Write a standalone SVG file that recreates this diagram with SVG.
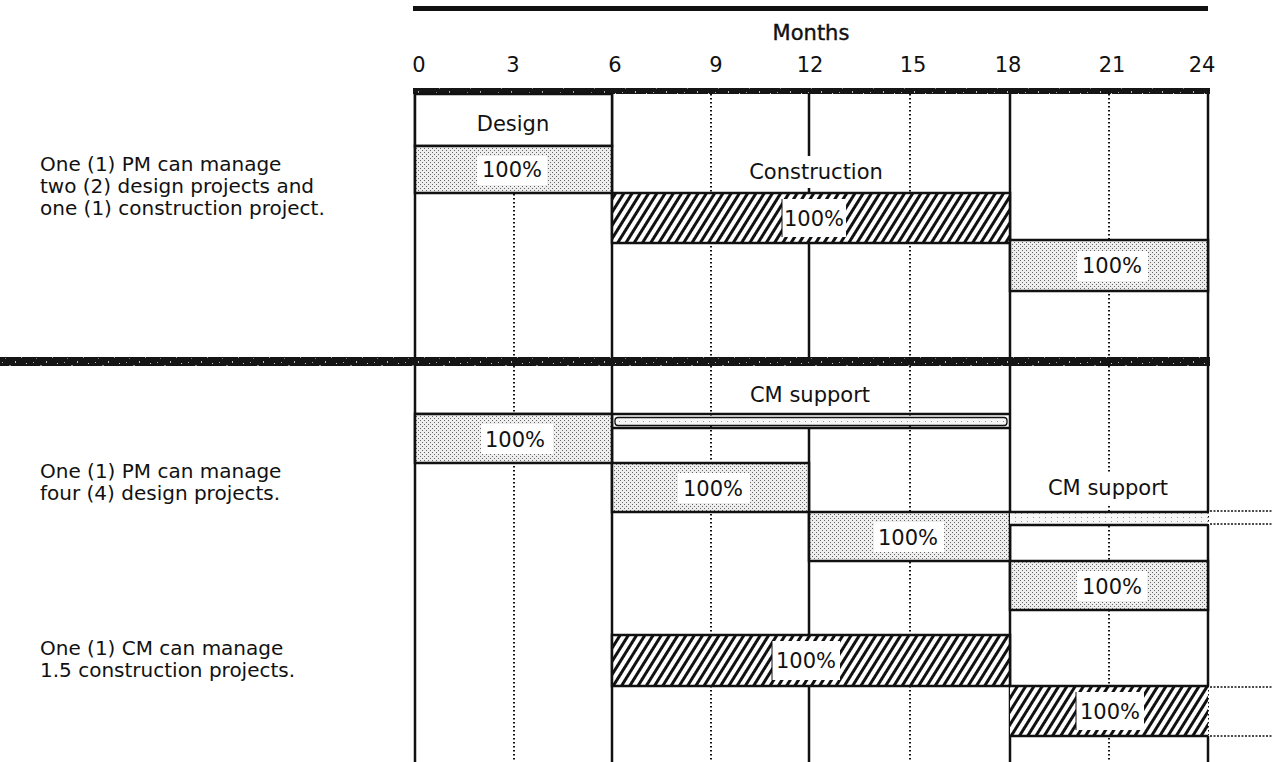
<svg xmlns="http://www.w3.org/2000/svg" width="1272" height="762" viewBox="0 0 1272 762">
  <defs>
    <style>
      text { font-family: "DejaVu Sans", "Liberation Sans", sans-serif; font-size: 21px; fill: #111; }
      .mid { text-anchor: middle; }
      .note { font-size: 20px; }
      .solid { stroke: #111; stroke-width: 2.5; fill: none; }
      .dots { stroke: #111; stroke-width: 2; stroke-dasharray: 1.5 2.5; fill: none; }
      .ext { stroke: #111; stroke-width: 1.5; stroke-dasharray: 2 1.5; fill: none; }
      .bar { stroke: #111; stroke-width: 2.5; }
      .shade { fill: url(#stipple); }
      .hatched { fill: url(#hatch); }
      .tag { fill: #fff; stroke: none; }
      .band { fill: url(#grain); }
    </style>
    <!-- light stipple tone -->
    <pattern id="stipple" width="4" height="4" patternUnits="userSpaceOnUse">
      <rect width="4" height="4" fill="#eeeeee"/>
      <rect width="1" height="1" fill="#666"/>
      <rect x="2" y="2" width="1" height="1" fill="#666"/>
    </pattern>
    <!-- very faint stipple for the thin support strips -->
    <pattern id="faint" width="6" height="4" patternUnits="userSpaceOnUse">
      <rect width="6" height="4" fill="#f7f7f7"/>
      <rect x="1" y="1" width="1" height="1" fill="#999"/>
    </pattern>
    <!-- diagonal hatching -->
    <pattern id="hatch" width="7" height="10" patternUnits="userSpaceOnUse" patternTransform="rotate(32)">
      <rect width="7" height="10" fill="#fff"/>
      <rect width="3" height="10" fill="#111"/>
    </pattern>
    <!-- speckled black rule -->
    <pattern id="grain" width="31" height="9" patternUnits="userSpaceOnUse">
      <rect width="31" height="9" fill="#151515"/>
      <rect x="2" y="2" width="1" height="1" fill="#aaa"/>
      <rect x="9" y="5" width="2" height="1" fill="#888"/>
      <rect x="15" y="1" width="1" height="2" fill="#bbb"/>
      <rect x="21" y="6" width="1" height="1" fill="#999"/>
      <rect x="26" y="3" width="1" height="1" fill="#ccc"/>
      <rect x="5" y="7" width="1" height="1" fill="#777"/>
    </pattern>
  </defs>

  <!-- header -->
  <g id="header">
    <rect x="413" y="6" width="795" height="5" fill="#111"/>
    <text class="mid" x="811" y="40" stroke="#111" stroke-width="0.4">Months</text>
    <g id="axis-labels">
      <text class="mid" x="419" y="72">0</text>
      <text class="mid" x="513" y="72">3</text>
      <text class="mid" x="615" y="72">6</text>
      <text class="mid" x="716" y="72">9</text>
      <text class="mid" x="810" y="72">12</text>
      <text class="mid" x="913" y="72">15</text>
      <text class="mid" x="1008" y="72">18</text>
      <text class="mid" x="1112" y="72">21</text>
      <text class="mid" x="1202" y="72">24</text>
    </g>
  </g>

  <!-- month grid -->
  <g id="grid">
    <line class="dots" x1="514" y1="94" x2="514" y2="762"/>
    <line class="dots" x1="711" y1="94" x2="711" y2="762"/>
    <line class="dots" x1="910" y1="94" x2="910" y2="762"/>
    <line class="dots" x1="1109" y1="94" x2="1109" y2="762"/>
    <line class="solid" x1="415" y1="94" x2="415" y2="762"/>
    <line class="solid" x1="612" y1="94" x2="612" y2="762"/>
    <line class="solid" x1="809" y1="94" x2="809" y2="360"/>
    <line class="solid" x1="809" y1="428" x2="809" y2="762"/>
    <line class="solid" x1="1010" y1="94" x2="1010" y2="762"/>
    <line class="solid" x1="1208" y1="94" x2="1208" y2="512"/>
    <line class="dots" x1="1208" y1="512" x2="1208" y2="525"/>
    <line class="solid" x1="1208" y1="525" x2="1208" y2="686"/>
    <line class="dots" x1="1208" y1="686" x2="1208" y2="736"/>
    <line class="solid" x1="1208" y1="736" x2="1208" y2="762"/>
    <rect class="band" x="413" y="88" width="797" height="6"/>
    <rect class="band" x="0" y="357" width="1210" height="9"/>
  </g>

  <!-- left-hand notes -->
  <g id="notes">
    <text class="note" x="40" y="171">One (1) PM can manage</text>
    <text class="note" x="40" y="193">two (2) design projects and</text>
    <text class="note" x="40" y="215">one (1) construction project.</text>
    <text class="note" x="40" y="478">One (1) PM can manage</text>
    <text class="note" x="40" y="500">four (4) design projects.</text>
    <text class="note" x="40" y="655">One (1) CM can manage</text>
    <text class="note" x="40" y="677">1.5 construction projects.</text>
  </g>

  <!-- upper schedule: PM with design and construction -->
  <g id="pm1-design-label">
    <rect x="415" y="94" width="197" height="52" fill="#fff" class="bar"/>
    <text class="mid" x="513" y="131">Design</text>
  </g>
  <g id="pm1-design-bar">
    <rect class="bar shade" x="415" y="146" width="197" height="47"/>
    <rect class="tag" x="477" y="156" width="70" height="29"/>
    <text class="mid" x="512" y="177">100%</text>
  </g>
  <g id="pm1-construction-label">
    <rect class="tag" x="744" y="156" width="146" height="32"/>
    <text class="mid" x="816" y="179">Construction</text>
  </g>
  <g id="pm1-construction-bar">
    <rect class="bar hatched" x="612" y="193" width="398" height="50"/>
    <rect class="tag" x="782" y="199" width="64" height="38"/>
    <line x1="782" y1="199" x2="782" y2="237" stroke="#111" stroke-width="1"/>
    <text class="mid" x="814" y="226">100%</text>
  </g>
  <g id="pm1-design-bar-2">
    <rect class="bar shade" x="1010" y="240" width="198" height="51"/>
    <rect class="tag" x="1077" y="251" width="71" height="30"/>
    <text class="mid" x="1112" y="273">100%</text>
  </g>

  <!-- lower schedule: PM with four designs, CM with construction -->
  <g id="cm-support-1">
    <line class="solid" x1="415" y1="414" x2="1010" y2="414"/>
    <rect class="tag" x="744" y="380" width="132" height="30"/>
    <text class="mid" x="810" y="402">CM support</text>
    <rect x="615" y="417.5" width="392" height="8" rx="3" fill="url(#faint)" stroke="#111" stroke-width="1.3"/>
    <line class="solid" x1="612" y1="428" x2="1010" y2="428"/>
  </g>
  <g id="pm2-design-1">
    <rect class="bar shade" x="415" y="414" width="197" height="49"/>
    <rect class="tag" x="481" y="424" width="72" height="30"/>
    <text class="mid" x="515" y="447">100%</text>
  </g>
  <g id="pm2-design-2">
    <rect class="bar shade" x="612" y="463" width="197" height="49"/>
    <rect class="tag" x="678" y="473" width="72" height="30"/>
    <text class="mid" x="713" y="496">100%</text>
  </g>
  <g id="pm2-design-3">
    <rect class="bar shade" x="809" y="512" width="201" height="49"/>
    <rect class="tag" x="874" y="522" width="70" height="30"/>
    <text class="mid" x="908" y="545">100%</text>
  </g>
  <g id="pm2-design-4">
    <rect class="bar shade" x="1010" y="561" width="198" height="49"/>
    <rect class="tag" x="1077" y="571" width="70" height="30"/>
    <text class="mid" x="1112" y="594">100%</text>
  </g>
  <g id="cm-support-2">
    <rect class="tag" x="1042" y="474" width="134" height="30"/>
    <text class="mid" x="1108" y="495">CM support</text>
    <rect x="1010" y="512" width="198" height="13" fill="url(#faint)"/>
    <line class="solid" x1="1010" y1="512" x2="1208" y2="512"/>
    <line class="solid" x1="1010" y1="525" x2="1208" y2="525"/>
    <line class="ext" x1="1210" y1="511" x2="1272" y2="511"/>
    <line class="ext" x1="1210" y1="524" x2="1272" y2="524"/>
  </g>
  <g id="cm-construction-1">
    <rect class="bar hatched" x="612" y="635" width="398" height="51"/>
    <rect class="tag" x="772" y="641" width="68" height="39"/>
    <line x1="772" y1="641" x2="772" y2="680" stroke="#111" stroke-width="1"/>
    <text class="mid" x="806" y="668">100%</text>
  </g>
  <g id="cm-construction-2">
    <rect x="1010" y="686" width="198" height="50" fill="url(#hatch)"/>
    <line class="solid" x1="1010" y1="686" x2="1208" y2="686"/>
    <line class="solid" x1="1010" y1="736" x2="1208" y2="736"/>
    <rect class="tag" x="1076" y="692" width="68" height="38"/>
    <line x1="1076" y1="692" x2="1076" y2="730" stroke="#111" stroke-width="1"/>
    <text class="mid" x="1110" y="719">100%</text>
    <line class="ext" x1="1210" y1="687" x2="1272" y2="687"/>
    <line class="ext" x1="1210" y1="736" x2="1272" y2="736"/>
  </g>
</svg>
